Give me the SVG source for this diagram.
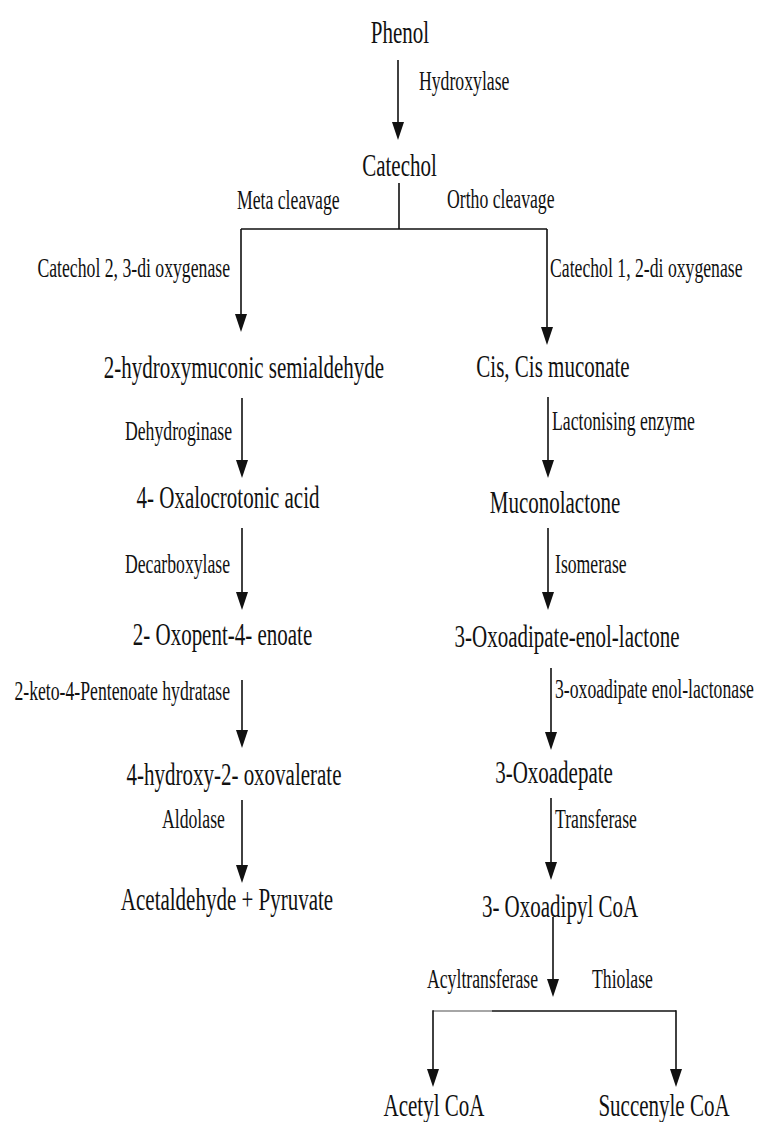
<svg xmlns="http://www.w3.org/2000/svg" width="758" height="1122" viewBox="0 0 758 1122">
<defs>
<style>
.n{font-family:"Liberation Serif","Times New Roman",serif;font-size:21px;fill:#111;text-anchor:middle}
.l{font-family:"Liberation Serif","Times New Roman",serif;font-size:17.7px;fill:#111}
.e{text-anchor:end}
.c{fill:none;stroke:#111;stroke-width:1.6}
</style>
<marker id="ah" markerUnits="userSpaceOnUse" markerWidth="18" markerHeight="12" refX="8" refY="6" orient="auto">
<path d="M0,0 L18,6 L0,12 z" fill="#111"/>
</marker>
</defs>
<rect width="758" height="1122" fill="#fff"/>
<g id="connectors">
<path class="c" d="M398,60 V130" marker-end="url(#ah)"/>
<path class="c" d="M399,183 V229 M241,229 H547"/>
<path class="c" d="M241,229 V322" marker-end="url(#ah)"/>
<path class="c" d="M547,229 V335" marker-end="url(#ah)"/>
<path class="c" d="M242,398 V468" marker-end="url(#ah)"/>
<path class="c" d="M242,528 V600" marker-end="url(#ah)"/>
<path class="c" d="M242,680 V738" marker-end="url(#ah)"/>
<path class="c" d="M242,800 V873" marker-end="url(#ah)"/>
<path class="c" d="M548,397 V468" marker-end="url(#ah)"/>
<path class="c" d="M548,528 V600" marker-end="url(#ah)"/>
<path class="c" d="M551,668 V740" marker-end="url(#ah)"/>
<path class="c" d="M551,798 V870" marker-end="url(#ah)"/>
<path class="c" d="M553,917 V987" marker-end="url(#ah)"/>
<path class="c" d="M492,1011 H676" />
<path d="M433,1011 H492" fill="none" stroke="#888" stroke-width="1.6"/>
<path class="c" d="M433,1010.2 V1077" marker-end="url(#ah)"/>
<path class="c" d="M676,1010.2 V1077" marker-end="url(#ah)"/>
<text class="l" transform="translate(419,90) scale(1,1.5)">Hydroxylase</text>
<text class="l" transform="translate(237,209) scale(1,1.5)">Meta cleavage</text>
<text class="l" transform="translate(447,208) scale(1,1.5)">Ortho cleavage</text>
<text class="l e" transform="translate(230,277) scale(1,1.5)">Catechol 2, 3-di oxygenase</text>
<text class="l" transform="translate(550,277) scale(1,1.5)">Catechol 1, 2-di oxygenase</text>
<text class="l" transform="translate(125,440) scale(1,1.5)">Dehydroginase</text>
<text class="l" transform="translate(552,430) scale(1,1.5)">Lactonising enzyme</text>
<text class="l" transform="translate(125,573) scale(1,1.5)">Decarboxylase</text>
<text class="l" transform="translate(555,573) scale(1,1.5)">Isomerase</text>
<text class="l e" transform="translate(230,700) scale(1,1.5)">2-keto-4-Pentenoate hydratase</text>
<text class="l" transform="translate(555,698) scale(1,1.5)">3-oxoadipate enol-lactonase</text>
<text class="l" transform="translate(162,828) scale(1,1.5)">Aldolase</text>
<text class="l" transform="translate(555,828) scale(1,1.5)">Transferase</text>
<text class="l" transform="translate(427,988) scale(1,1.5)">Acyltransferase</text>
<text class="l" transform="translate(592,988) scale(1,1.5)">Thiolase</text>
</g>
<g id="phenol"><text class="n" transform="translate(400,43) scale(1,1.5)">Phenol</text></g>
<g id="catechol"><text class="n" transform="translate(399.5,176) scale(1,1.5)">Catechol</text></g>
<g id="semialdehyde"><text class="n" transform="translate(244,378) scale(1,1.5)">2-hydroxymuconic semialdehyde</text></g>
<g id="muconate"><text class="n" transform="translate(553,377) scale(1,1.5)">Cis, Cis muconate</text></g>
<g id="oxalocrotonic"><text class="n" transform="translate(228,508) scale(1,1.5)">4- Oxalocrotonic acid</text></g>
<g id="muconolactone"><text class="n" transform="translate(555,513) scale(1,1.5)">Muconolactone</text></g>
<g id="oxopentenoate"><text class="n" transform="translate(222.5,645) scale(1,1.5)">2- Oxopent-4- enoate</text></g>
<g id="enollactone"><text class="n" transform="translate(567,647) scale(1,1.5)">3-Oxoadipate-enol-lactone</text></g>
<g id="oxovalerate"><text class="n" transform="translate(234,785) scale(1,1.5)">4-hydroxy-2- oxovalerate</text></g>
<g id="oxoadepate"><text class="n" transform="translate(554,783) scale(1,1.5)">3-Oxoadepate</text></g>
<g id="acetaldehyde"><text class="n" transform="translate(227,910) scale(1,1.5)">Acetaldehyde + Pyruvate</text></g>
<g id="oxoadipylcoa"><text class="n" transform="translate(560,917) scale(1,1.5)">3- Oxoadipyl CoA</text></g>
<g id="acetylcoa"><text class="n" transform="translate(434,1116) scale(1,1.5)">Acetyl CoA</text></g>
<g id="succenylcoa"><text class="n" transform="translate(664,1116) scale(1,1.5)">Succenyle CoA</text></g>
</svg>
